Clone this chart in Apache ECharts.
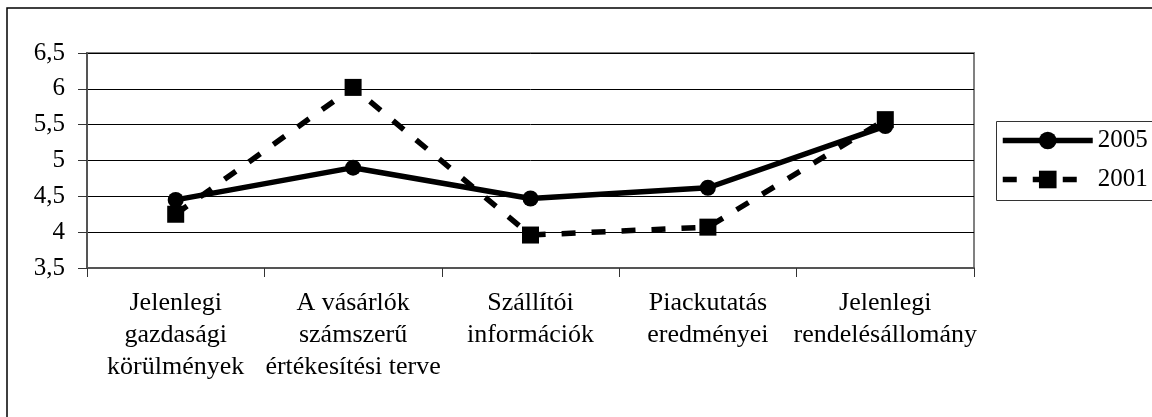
<!DOCTYPE html>
<html>
<head>
<meta charset="utf-8">
<script src="https://cdn.jsdelivr.net/npm/echarts@6/dist/echarts.min.js"></script>
<style>
  html, body { margin: 0; padding: 0; background: #fff; }
  #main { width: 1152px; height: 417px; }
</style>
</head>
<body>
<div id="main"></div>
<script>
// adatok
var categories = [
  'Jelenlegi\ngazdasági\nkörülmények',
  'A vásárlók\nszámszerű\nértékesítési terve',
  'Szállítói\ninformációk',
  'Piackutatás\neredményei',
  'Jelenlegi\nrendelésállomány'
];
var values2005 = [4.45, 4.90, 4.47, 4.62, 5.48];
var values2001 = [4.25, 6.02, 3.96, 4.07, 5.57];
var yTicks = ['3,5', '4', '4,5', '5', '5,5', '6', '6,5'];

var chart = echarts.init(document.getElementById('main'));
var font = 'Liberation Serif';

var option = {
  animation: false,
  backgroundColor: '#fff',
  graphic: [
    {
      type: 'rect',
      shape: { x: 7, y: 8, width: 1300, height: 600 },
      style: { fill: 'none', stroke: '#000', lineWidth: 1.5 },
      z: 0
    },
    {
      type: 'rect',
      shape: { x: 996.5, y: 121.5, width: 300, height: 79 },
      style: { fill: '#fff', stroke: '#333', lineWidth: 1 },
      z: 0
    }
  ],
  legend: {
    orient: 'vertical',
    left: 1000,
    top: 128,
    padding: 0,
    itemWidth: 90,
    itemHeight: 22,
    itemGap: 14,
    lineStyle: { width: 5.5 },
    textStyle: { fontFamily: font, fontSize: 25, color: '#000', padding: [0, 0, 0, 0] },
    data: ['2005', '2001']
  },
  grid: {
    left: 87,
    right: 178,
    top: 53,
    bottom: 149,
    show: true,
    borderColor: '#808080',
    borderWidth: 2
  },
  xAxis: {
    type: 'category',
    data: categories,
    boundaryGap: true,
    axisLine: { lineStyle: { color: '#555', width: 2 } },
    axisTick: { show: true, length: 9, lineStyle: { color: '#333' } },
    axisLabel: {
      interval: 0,
      margin: 19,
      fontFamily: font,
      fontSize: 26,
      lineHeight: 32,
      color: '#000'
    }
  },
  yAxis: {
    type: 'value',
    min: 3.5,
    max: 6.5,
    interval: 0.5,
    axisLine: { show: true, lineStyle: { color: '#555', width: 2 } },
    axisTick: { show: true, length: 9, lineStyle: { color: '#333' } },
    splitLine: { lineStyle: { color: '#000', width: 1 } },
    axisLabel: {
      margin: 22,
      fontFamily: font,
      fontSize: 25,
      color: '#000',
      formatter: function (v) {
        var i = Math.round((v - 3.5) / 0.5);
        return yTicks[i];
      }
    }
  },
  series: [
    {
      name: '2005',
      type: 'line',
      data: values2005,
      symbol: 'circle',
      symbolSize: 16,
      itemStyle: { color: '#000' },
      lineStyle: { color: '#000', width: 5.5 }
    },
    {
      name: '2001',
      type: 'line',
      data: values2001,
      symbol: 'rect',
      symbolSize: 17,
      itemStyle: { color: '#000' },
      lineStyle: { color: '#000', width: 5.5, type: [14, 16] }
    }
  ]
};

option && chart.setOption(option);
</script>
</body>
</html>
